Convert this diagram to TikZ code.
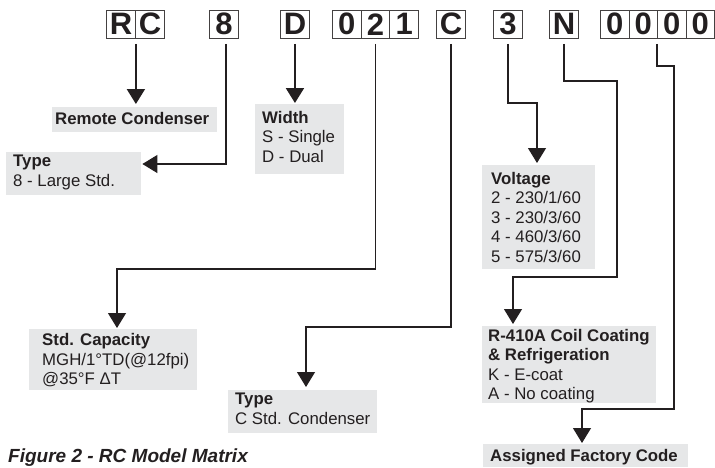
\documentclass[tikz,border=0pt]{standalone}
\usepackage{fontspec}
\setmainfont{Liberation Sans}
\usetikzlibrary{arrows.meta}
\definecolor{ink}{HTML}{231F20}
\definecolor{boxgray}{HTML}{E6E7E8}
\begin{document}
\begin{tikzpicture}[x=1pt,y=-1pt,
  cell/.style={draw=ink!85, line width=0.9pt, minimum width=29pt, minimum height=28.5pt,
    inner sep=0pt, anchor=north west, font=\fontsize{31}{31}\selectfont\bfseries, text=ink},
  zcell/.style={cell, minimum width=28.5pt},
  gbox/.style={fill=boxgray, draw=none, inner sep=0pt, anchor=north west},
  btext/.style={inner sep=0pt, anchor=north west, align=left,
    font=\fontsize{16.8}{19.5}\selectfont, text=ink},
  conn/.style={draw=ink, line width=1.2pt, -{Triangle[width=18pt,length=15pt]}},
  bigconn/.style={conn, line width=2pt}]
\useasboundingbox (0,0) rectangle (715,467);

% code cells
\node[cell] (cR) at (106,9.5) {R};
\node[cell] (cC) at (135,9.5) {C};
\node[cell] (c8) at (209,9.5) {8};
\node[cell] (cD) at (280,9.5) {D};
\node[cell, minimum width=28.7pt] (c0) at (332,9.5) {0};
\node[cell, minimum width=28.7pt] (c2) at (360.7,9.5) {2};
\node[cell, minimum width=28.7pt] (c1) at (389.4,9.5) {1};
\node[cell] (cCc) at (436,9.5) {C};
\node[cell] (c3) at (493,9.5) {3};
\node[cell] (cN) at (549,9.5) {N};
\node[zcell] (z1) at (600,9.5) {0};
\node[zcell] (z2) at (628.5,9.5) {0};
\node[zcell] (z3) at (657,9.5) {0};
\node[zcell] (z4) at (685.5,9.5) {0};

% grey boxes
\node[gbox, minimum width=165pt, minimum height=25pt] (rem) at (52,107) {};
\node[gbox, minimum width=135pt, minimum height=43pt] (type8) at (6,152) {};
\node[gbox, minimum width=89pt, minimum height=70pt] (width) at (255,104) {};
\node[gbox, minimum width=113pt, minimum height=104pt] (volt) at (482,165) {};
\node[gbox, minimum width=168pt, minimum height=61pt] (stdcap) at (29,329) {};
\node[gbox, minimum width=149pt, minimum height=43pt] (typeC) at (228,390) {};
\node[gbox, minimum width=174pt, minimum height=77pt] (coil) at (482,326) {};
\node[gbox, minimum width=205pt, minimum height=23pt] (fact) at (483,444) {};

% texts
\node[btext] (remT) at (55,111.8) {\textbf{Remote Condenser}};
\node[btext] (type8T) at (13,154.8) {\textbf{Type}\\8 - Large Std.};
\node[btext] (widthT) at (262,110.8) {\textbf{Width}\\S - Single\\D - Dual};
\node[btext] (voltT) at (491,171.8) {\textbf{Voltage}\\2 - 230/1/60\\3 - 230/3/60\\4 - 460/3/60\\5 - 575/3/60};
\node[btext] (stdcapT) at (42,333.5) {\textbf{Std. Capacity}\\MGH/1°TD(@12fpi)\\@35°F ΔT};
\node[btext] (typeCT) at (235,392.8) {\textbf{Type}\\C Std. Condenser};
\node[btext] (coilT) at (488,328.8) {\textbf{R-410A Coil Coating}\\\textbf{\& Refrigeration}\\K - E-coat\\A - No coating};
\node[btext] (factT) at (490,448.8) {\textbf{Assigned Factory Code}};

\node[anchor=base west, inner sep=0pt, text=ink,
  font=\fontsize{19}{19}\selectfont\bfseries\itshape] (cap) at (8,462) {Figure 2 - RC Model Matrix};

% connectors
\draw[bigconn] ([yshift=-5pt]cR.south east) -- ([yshift=3pt]rem.north -| cR.south east);
\draw[conn] ([xshift=2pt,yshift=-5pt]c8.south) |- ([xshift=1pt]type8.east |- 0,164);
\draw[bigconn] ([yshift=-5pt]cD.south) -- ([yshift=1pt]width.north -| cD.south);
\draw[conn] ([yshift=-5pt]c2.south) -- (c2.south |- 0,269) -- (117,269) -- ([yshift=1pt]stdcap.north -| 117,0);
\draw[conn] ([yshift=-5pt]cCc.south) -- (cCc.south |- 0,327) -- (306,327) -- ([yshift=3pt]typeC.north -| 306,0);
\draw[conn] ([yshift=-5pt]c3.south) -- (c3.south |- 0,103) -- (537,103) -- ([yshift=2pt]volt.north -| 537,0);
\draw[conn] ([yshift=-5pt]cN.south) -- (cN.south |- 0,81) -- (617,81) -- (617,277) -- (513,277) -- ([yshift=2pt]coil.north -| 513,0);
\draw[conn] ([yshift=-5pt]z3.south west) -- (z3.south west |- 0,66) -- (674,66) -- (674,409) -- (582,409) -- ([yshift=1pt]fact.north -| 582,0);
\end{tikzpicture}
\end{document}
